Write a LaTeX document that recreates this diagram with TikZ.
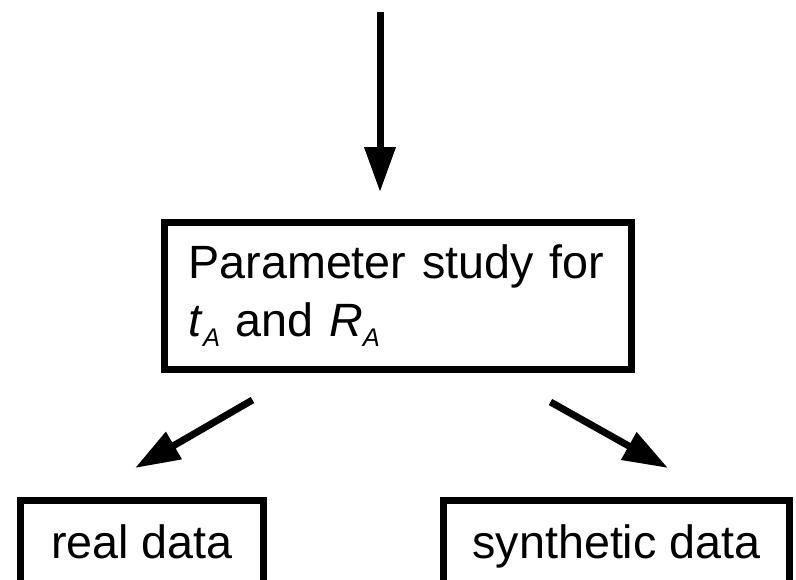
\documentclass[tikz,border=0pt]{standalone}
\usepackage{fontspec}
\setmainfont{Liberation Sans}
\usetikzlibrary{arrows.meta}

\newcommand{\subA}{\raisebox{-10pt}{\fontsize{25.5}{25.5}\selectfont\itshape A}}

\begin{document}
\begin{tikzpicture}[x=1pt,y=1pt,
    box/.style={draw,line width=7pt,inner sep=0pt},
    flow/.style={line width=7pt,-{Triangle[width=30pt,length=45pt]}}]
    \useasboundingbox (0,0) rectangle (796,-579);
    \clip (0,0) rectangle (796,-579);
    \begin{scope}[font=\fontsize{46.7}{58}\selectfont]

    % boxes
    \node [box,minimum width=467pt,minimum height=147pt,inner xsep=24.5pt,
           text width=418pt,align=left] (study) at (397.5,-295.5)
          {Parameter study for\\\textit{t}\subA{} and \textit{R}\subA};
    \node [box,minimum width=243pt,text height=37.5pt,text depth=20pt,inner ysep=20pt,
           anchor=base] (real) at (142,-558) {real data};
    \node [box,minimum width=346pt,text height=37.5pt,text depth=20pt,inner ysep=20pt,
           anchor=base] (synth) at (616.5,-558) {synthetic data};

    % arrows
    \coordinate (input) at (380,-12);
    \draw [flow] (input) -- ([yshift=26.5pt]input |- study.north);
    \draw [flow] ([shift={(92pt,-27.5pt)}]study.south west) -- ([shift={(-7pt,29pt)}]real.north);
    \draw [flow] ([shift={(-84pt,-29.5pt)}]study.south east) -- ([shift={(51.5pt,29pt)}]synth.north);
    \end{scope}
\end{tikzpicture}
\end{document}
